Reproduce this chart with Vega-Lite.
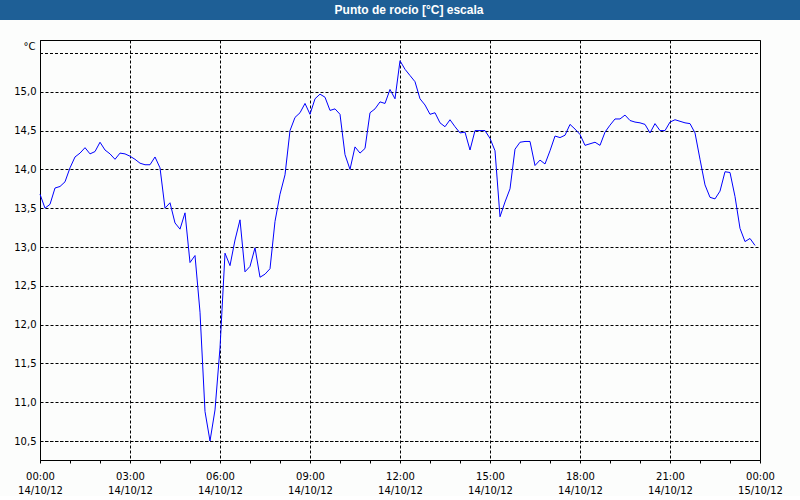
{
  "$schema": "https://vega.github.io/schema/vega-lite/v6.json",
  "padding": 0,
  "background": "#fcfdfc",
  "bounds": "flush",
  "center": true,
  "spacing": 20,
  "config": {
    "font": "DejaVu Sans",
    "locale": {"number": {"decimal": ",", "thousands": ".", "grouping": [3], "currency": ["", " €"]}}
  },
  "vconcat": [
    {
      "width": 800,
      "height": 20,
      "view": {"fill": "#1e5f96", "stroke": null},
      "data": {"values": [{"label": "Punto de rocío [°C] escala"}]},
      "mark": {"type": "text", "color": "white", "font": "Liberation Sans", "fontWeight": "bold", "fontSize": 12, "baseline": "middle", "align": "center", "dx": 9},
      "encoding": {"text": {"field": "label"}}
    },
    {
      "width": 720,
      "height": 420,
      "view": {"stroke": "black", "strokeWidth": 1, "fill": "#fcfdfc"},
      "data": {"values": [
        {"t": "2012-10-14 00:00", "v": 13.68}, {"t": "2012-10-14 00:10", "v": 13.50}, {"t": "2012-10-14 00:20", "v": 13.55}, {"t": "2012-10-14 00:30", "v": 13.76}, {"t": "2012-10-14 00:40", "v": 13.78}, {"t": "2012-10-14 00:50", "v": 13.84},
        {"t": "2012-10-14 01:00", "v": 14.02}, {"t": "2012-10-14 01:10", "v": 14.16}, {"t": "2012-10-14 01:20", "v": 14.21}, {"t": "2012-10-14 01:30", "v": 14.28}, {"t": "2012-10-14 01:40", "v": 14.20}, {"t": "2012-10-14 01:50", "v": 14.23},
        {"t": "2012-10-14 02:00", "v": 14.35}, {"t": "2012-10-14 02:10", "v": 14.25}, {"t": "2012-10-14 02:20", "v": 14.20}, {"t": "2012-10-14 02:30", "v": 14.13}, {"t": "2012-10-14 02:40", "v": 14.21}, {"t": "2012-10-14 02:50", "v": 14.20},
        {"t": "2012-10-14 03:00", "v": 14.17}, {"t": "2012-10-14 03:10", "v": 14.13}, {"t": "2012-10-14 03:20", "v": 14.08}, {"t": "2012-10-14 03:30", "v": 14.06}, {"t": "2012-10-14 03:40", "v": 14.06}, {"t": "2012-10-14 03:50", "v": 14.16},
        {"t": "2012-10-14 04:00", "v": 14.02}, {"t": "2012-10-14 04:10", "v": 13.50}, {"t": "2012-10-14 04:20", "v": 13.57}, {"t": "2012-10-14 04:30", "v": 13.31}, {"t": "2012-10-14 04:40", "v": 13.23}, {"t": "2012-10-14 04:50", "v": 13.44},
        {"t": "2012-10-14 05:00", "v": 12.80}, {"t": "2012-10-14 05:10", "v": 12.89}, {"t": "2012-10-14 05:20", "v": 12.16}, {"t": "2012-10-14 05:30", "v": 10.88}, {"t": "2012-10-14 05:40", "v": 10.50}, {"t": "2012-10-14 05:50", "v": 10.90},
        {"t": "2012-10-14 06:00", "v": 11.70}, {"t": "2012-10-14 06:10", "v": 12.92}, {"t": "2012-10-14 06:20", "v": 12.76}, {"t": "2012-10-14 06:30", "v": 13.09}, {"t": "2012-10-14 06:40", "v": 13.35}, {"t": "2012-10-14 06:50", "v": 12.68},
        {"t": "2012-10-14 07:00", "v": 12.75}, {"t": "2012-10-14 07:10", "v": 12.99}, {"t": "2012-10-14 07:20", "v": 12.61}, {"t": "2012-10-14 07:30", "v": 12.65}, {"t": "2012-10-14 07:40", "v": 12.72}, {"t": "2012-10-14 07:50", "v": 13.33},
        {"t": "2012-10-14 08:00", "v": 13.68}, {"t": "2012-10-14 08:10", "v": 13.93}, {"t": "2012-10-14 08:20", "v": 14.50}, {"t": "2012-10-14 08:30", "v": 14.67}, {"t": "2012-10-14 08:40", "v": 14.73}, {"t": "2012-10-14 08:50", "v": 14.85},
        {"t": "2012-10-14 09:00", "v": 14.71}, {"t": "2012-10-14 09:10", "v": 14.91}, {"t": "2012-10-14 09:20", "v": 14.97}, {"t": "2012-10-14 09:30", "v": 14.93}, {"t": "2012-10-14 09:40", "v": 14.76}, {"t": "2012-10-14 09:50", "v": 14.78},
        {"t": "2012-10-14 10:00", "v": 14.71}, {"t": "2012-10-14 10:10", "v": 14.19}, {"t": "2012-10-14 10:20", "v": 14.00}, {"t": "2012-10-14 10:30", "v": 14.29}, {"t": "2012-10-14 10:40", "v": 14.21}, {"t": "2012-10-14 10:50", "v": 14.27},
        {"t": "2012-10-14 11:00", "v": 14.73}, {"t": "2012-10-14 11:10", "v": 14.78}, {"t": "2012-10-14 11:20", "v": 14.87}, {"t": "2012-10-14 11:30", "v": 14.85}, {"t": "2012-10-14 11:40", "v": 15.03}, {"t": "2012-10-14 11:50", "v": 14.91},
        {"t": "2012-10-14 12:00", "v": 15.40}, {"t": "2012-10-14 12:10", "v": 15.29}, {"t": "2012-10-14 12:20", "v": 15.21}, {"t": "2012-10-14 12:30", "v": 15.13}, {"t": "2012-10-14 12:40", "v": 14.91}, {"t": "2012-10-14 12:50", "v": 14.83},
        {"t": "2012-10-14 13:00", "v": 14.71}, {"t": "2012-10-14 13:10", "v": 14.73}, {"t": "2012-10-14 13:20", "v": 14.60}, {"t": "2012-10-14 13:30", "v": 14.55}, {"t": "2012-10-14 13:40", "v": 14.64}, {"t": "2012-10-14 13:50", "v": 14.55},
        {"t": "2012-10-14 14:00", "v": 14.47}, {"t": "2012-10-14 14:10", "v": 14.48}, {"t": "2012-10-14 14:20", "v": 14.25}, {"t": "2012-10-14 14:30", "v": 14.50}, {"t": "2012-10-14 14:40", "v": 14.50}, {"t": "2012-10-14 14:50", "v": 14.50},
        {"t": "2012-10-14 15:00", "v": 14.40}, {"t": "2012-10-14 15:10", "v": 14.24}, {"t": "2012-10-14 15:20", "v": 13.39}, {"t": "2012-10-14 15:30", "v": 13.58}, {"t": "2012-10-14 15:40", "v": 13.75}, {"t": "2012-10-14 15:50", "v": 14.26},
        {"t": "2012-10-14 16:00", "v": 14.35}, {"t": "2012-10-14 16:10", "v": 14.36}, {"t": "2012-10-14 16:20", "v": 14.36}, {"t": "2012-10-14 16:30", "v": 14.05}, {"t": "2012-10-14 16:40", "v": 14.12}, {"t": "2012-10-14 16:50", "v": 14.07},
        {"t": "2012-10-14 17:00", "v": 14.24}, {"t": "2012-10-14 17:10", "v": 14.43}, {"t": "2012-10-14 17:20", "v": 14.41}, {"t": "2012-10-14 17:30", "v": 14.44}, {"t": "2012-10-14 17:40", "v": 14.58}, {"t": "2012-10-14 17:50", "v": 14.52},
        {"t": "2012-10-14 18:00", "v": 14.45}, {"t": "2012-10-14 18:10", "v": 14.31}, {"t": "2012-10-14 18:20", "v": 14.33}, {"t": "2012-10-14 18:30", "v": 14.35}, {"t": "2012-10-14 18:40", "v": 14.31}, {"t": "2012-10-14 18:50", "v": 14.48},
        {"t": "2012-10-14 19:00", "v": 14.57}, {"t": "2012-10-14 19:10", "v": 14.65}, {"t": "2012-10-14 19:20", "v": 14.65}, {"t": "2012-10-14 19:30", "v": 14.70}, {"t": "2012-10-14 19:40", "v": 14.63}, {"t": "2012-10-14 19:50", "v": 14.61},
        {"t": "2012-10-14 20:00", "v": 14.60}, {"t": "2012-10-14 20:10", "v": 14.58}, {"t": "2012-10-14 20:20", "v": 14.47}, {"t": "2012-10-14 20:30", "v": 14.59}, {"t": "2012-10-14 20:40", "v": 14.50}, {"t": "2012-10-14 20:50", "v": 14.50},
        {"t": "2012-10-14 21:00", "v": 14.61}, {"t": "2012-10-14 21:10", "v": 14.64}, {"t": "2012-10-14 21:20", "v": 14.62}, {"t": "2012-10-14 21:30", "v": 14.60}, {"t": "2012-10-14 21:40", "v": 14.59}, {"t": "2012-10-14 21:50", "v": 14.47},
        {"t": "2012-10-14 22:00", "v": 14.13}, {"t": "2012-10-14 22:10", "v": 13.80}, {"t": "2012-10-14 22:20", "v": 13.64}, {"t": "2012-10-14 22:30", "v": 13.62}, {"t": "2012-10-14 22:40", "v": 13.72}, {"t": "2012-10-14 22:50", "v": 13.97},
        {"t": "2012-10-14 23:00", "v": 13.96}, {"t": "2012-10-14 23:10", "v": 13.65}, {"t": "2012-10-14 23:20", "v": 13.24}, {"t": "2012-10-14 23:30", "v": 13.07}, {"t": "2012-10-14 23:40", "v": 13.11}, {"t": "2012-10-14 23:50", "v": 13.02}
      ]},
      "resolve": {"axis": {"x": "independent"}},
      "layer": [
        {
          "mark": {"type": "line", "color": "#0000ff", "strokeWidth": 1},
          "encoding": {
            "x": {
              "field": "t",
              "type": "temporal",
              "scale": {"domain": [{"year": 2012, "month": 10, "date": 14, "hours": 0}, {"year": 2012, "month": 10, "date": 15, "hours": 0}], "nice": false},
              "axis": {
                "orient": "bottom",
                "title": null,
                "values": [
                  {"year": 2012, "month": 10, "date": 14, "hours": 0}, {"year": 2012, "month": 10, "date": 14, "hours": 3},
                  {"year": 2012, "month": 10, "date": 14, "hours": 6}, {"year": 2012, "month": 10, "date": 14, "hours": 9},
                  {"year": 2012, "month": 10, "date": 14, "hours": 12}, {"year": 2012, "month": 10, "date": 14, "hours": 15},
                  {"year": 2012, "month": 10, "date": 14, "hours": 18}, {"year": 2012, "month": 10, "date": 14, "hours": 21},
                  {"year": 2012, "month": 10, "date": 15, "hours": 0}
                ],
                "format": "%H:%M",
                "labelFont": "DejaVu Sans",
                "labelFontSize": 10,
                "labelColor": "black",
                "labelPadding": 8,
                "labelFlush": false,
                "tickSize": 3,
                "tickColor": "black",
                "domainColor": "black",
                "grid": true,
                "gridColor": "black",
                "gridDash": [3, 2]
              }
            },
            "y": {
              "field": "v",
              "type": "quantitative",
              "scale": {"domain": [10.255155, 15.667526], "nice": false, "zero": false},
              "axis": {
                "title": "°C",
                "titleAngle": 0,
                "titleAlign": "right",
                "titleBaseline": "middle",
                "titleX": -5,
                "titleY": 6,
                "titleFont": "DejaVu Sans",
                "titleFontSize": 10,
                "titleFontWeight": "normal",
                "titleColor": "black",
                "values": [10.5, 11, 11.5, 12, 12.5, 13, 13.5, 14, 14.5, 15],
                "format": ".1f",
                "labelFont": "DejaVu Sans",
                "labelFontSize": 10,
                "labelColor": "black",
                "labelPadding": 4,
                "tickSize": 0,
                "domainColor": "black",
                "grid": true,
                "gridColor": "black",
                "gridDash": [3, 2]
              }
            }
          }
        },
        {
          "mark": {"type": "rule", "color": "black", "strokeWidth": 1, "strokeDash": [3, 2], "yOffset": 0.5},
          "encoding": {
            "x": {
              "datum": {"year": 2012, "month": 10, "date": 14, "hours": 0},
              "type": "temporal",
              "axis": {
                "orient": "bottom",
                "title": null,
                "values": [
                  {"year": 2012, "month": 10, "date": 14, "hours": 0}, {"year": 2012, "month": 10, "date": 14, "hours": 3},
                  {"year": 2012, "month": 10, "date": 14, "hours": 6}, {"year": 2012, "month": 10, "date": 14, "hours": 9},
                  {"year": 2012, "month": 10, "date": 14, "hours": 12}, {"year": 2012, "month": 10, "date": 14, "hours": 15},
                  {"year": 2012, "month": 10, "date": 14, "hours": 18}, {"year": 2012, "month": 10, "date": 14, "hours": 21},
                  {"year": 2012, "month": 10, "date": 15, "hours": 0}
                ],
                "format": "%d/%m/%y",
                "labelFont": "DejaVu Sans",
                "labelFontSize": 10,
                "labelColor": "black",
                "labelPadding": 25,
                "labelFlush": false,
                "tickSize": 0,
                "domain": false,
                "grid": false
              }
            },
            "x2": {"datum": {"year": 2012, "month": 10, "date": 15, "hours": 0}},
            "y": {"datum": 15.5, "type": "quantitative"}
          }
        },
        {
          "mark": {"type": "rule", "color": "black", "strokeWidth": 1, "strokeDash": [3, 2], "yOffset": 0.5},
          "encoding": {
            "x": {
              "datum": {"year": 2012, "month": 10, "date": 14, "hours": 0},
              "type": "temporal",
              "axis": {
                "orient": "bottom",
                "title": null,
                "values": [
                  {"year": 2012, "month": 10, "date": 14, "hours": 1}, {"year": 2012, "month": 10, "date": 14, "hours": 2},
                  {"year": 2012, "month": 10, "date": 14, "hours": 4}, {"year": 2012, "month": 10, "date": 14, "hours": 5},
                  {"year": 2012, "month": 10, "date": 14, "hours": 7}, {"year": 2012, "month": 10, "date": 14, "hours": 8},
                  {"year": 2012, "month": 10, "date": 14, "hours": 10}, {"year": 2012, "month": 10, "date": 14, "hours": 11},
                  {"year": 2012, "month": 10, "date": 14, "hours": 13}, {"year": 2012, "month": 10, "date": 14, "hours": 14},
                  {"year": 2012, "month": 10, "date": 14, "hours": 16}, {"year": 2012, "month": 10, "date": 14, "hours": 17},
                  {"year": 2012, "month": 10, "date": 14, "hours": 19}, {"year": 2012, "month": 10, "date": 14, "hours": 20},
                  {"year": 2012, "month": 10, "date": 14, "hours": 22}, {"year": 2012, "month": 10, "date": 14, "hours": 23}
                ],
                "labels": false,
                "tickSize": 3,
                "tickColor": "black",
                "domain": false,
                "grid": false
              }
            },
            "x2": {"datum": {"year": 2012, "month": 10, "date": 15, "hours": 0}},
            "y": {"datum": 10.5, "type": "quantitative"}
          }
        }
      ]
    }
  ]
}
